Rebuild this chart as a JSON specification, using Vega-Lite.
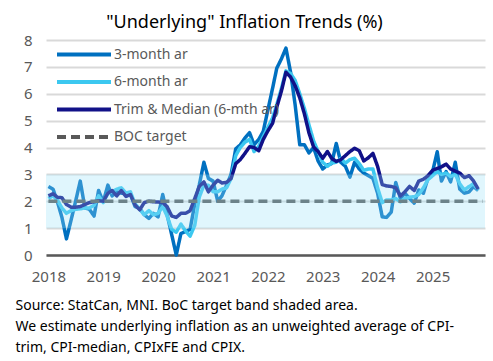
{
  "$schema": "https://vega.github.io/schema/vega-lite/v6.json",
  "width": 439,
  "height": 215,
  "autosize": {"type": "none"},
  "padding": {"left": 46, "top": 40, "right": 8, "bottom": 106},
  "background": "white",
  "title": {"text": "\"Underlying\" Inflation Trends (%)", "fontSize": 18, "fontWeight": "normal", "color": "#000000", "anchor": "middle", "dx": -21, "offset": 1, "font": "Noto Sans"},
  "config": {
    "font": "Noto Sans",
    "view": {"stroke": null},
    "legend": {
      "orient": "none", "legendX": 9, "legendY": 6.5, "title": null, "padding": 0,
      "symbolType": "stroke", "symbolSize": 2916, "symbolStrokeWidth": 4,
      "clipHeight": 16, "rowPadding": 11.5, "labelFontSize": 14, "labelColor": "#595959",
      "labelOffset": 1, "labelLimit": 300, "labelFont": "Noto Sans"
    }
  },
  "data": {"values": [
    {"d":"2018-01","m3":2.55,"m6":2.1,"tm":2.2,"boc":2},
    {"d":"2018-02","m3":2.45,"m6":2.2,"tm":2.28,"boc":2},
    {"d":"2018-03","m3":2.0,"m6":2.05,"tm":2.15,"boc":2},
    {"d":"2018-04","m3":1.4,"m6":1.75,"tm":2.13,"boc":2},
    {"d":"2018-05","m3":0.6,"m6":1.55,"tm":1.88,"boc":2},
    {"d":"2018-06","m3":1.3,"m6":1.65,"tm":1.78,"boc":2},
    {"d":"2018-07","m3":2.0,"m6":1.7,"tm":1.78,"boc":2},
    {"d":"2018-08","m3":2.75,"m6":1.72,"tm":1.8,"boc":2},
    {"d":"2018-09","m3":1.75,"m6":1.75,"tm":1.88,"boc":2},
    {"d":"2018-10","m3":1.7,"m6":1.75,"tm":1.95,"boc":2},
    {"d":"2018-11","m3":1.45,"m6":1.85,"tm":1.98,"boc":2},
    {"d":"2018-12","m3":2.4,"m6":2.2,"tm":2.02,"boc":2},
    {"d":"2019-01","m3":1.98,"m6":1.95,"tm":2.0,"boc":2},
    {"d":"2019-02","m3":2.6,"m6":2.3,"tm":2.3,"boc":2},
    {"d":"2019-03","m3":2.2,"m6":2.35,"tm":2.4,"boc":2},
    {"d":"2019-04","m3":2.35,"m6":2.45,"tm":2.2,"boc":2},
    {"d":"2019-05","m3":2.3,"m6":2.5,"tm":2.4,"boc":2},
    {"d":"2019-06","m3":2.3,"m6":2.3,"tm":2.18,"boc":2},
    {"d":"2019-07","m3":2.25,"m6":2.35,"tm":2.25,"boc":2},
    {"d":"2019-08","m3":1.8,"m6":1.9,"tm":1.86,"boc":2},
    {"d":"2019-09","m3":1.73,"m6":1.7,"tm":1.68,"boc":2},
    {"d":"2019-10","m3":1.5,"m6":1.5,"tm":1.95,"boc":2},
    {"d":"2019-11","m3":1.36,"m6":1.65,"tm":2.0,"boc":2},
    {"d":"2019-12","m3":1.55,"m6":1.5,"tm":1.98,"boc":2},
    {"d":"2020-01","m3":1.42,"m6":1.55,"tm":1.97,"boc":2},
    {"d":"2020-02","m3":2.25,"m6":1.8,"tm":1.95,"boc":2},
    {"d":"2020-03","m3":1.5,"m6":1.45,"tm":1.8,"boc":2},
    {"d":"2020-04","m3":0.75,"m6":0.95,"tm":1.45,"boc":2},
    {"d":"2020-05","m3":0.0,"m6":0.85,"tm":1.4,"boc":2},
    {"d":"2020-06","m3":0.8,"m6":1.15,"tm":1.55,"boc":2},
    {"d":"2020-07","m3":0.87,"m6":0.9,"tm":1.55,"boc":2},
    {"d":"2020-08","m3":0.95,"m6":0.7,"tm":1.65,"boc":2},
    {"d":"2020-09","m3":1.9,"m6":1.1,"tm":2.1,"boc":2},
    {"d":"2020-10","m3":2.6,"m6":2.15,"tm":2.55,"boc":2},
    {"d":"2020-11","m3":3.45,"m6":2.6,"tm":2.72,"boc":2},
    {"d":"2020-12","m3":2.85,"m6":2.6,"tm":2.35,"boc":2},
    {"d":"2021-01","m3":2.75,"m6":2.35,"tm":2.6,"boc":2},
    {"d":"2021-02","m3":2.0,"m6":2.35,"tm":2.78,"boc":2},
    {"d":"2021-03","m3":2.2,"m6":2.45,"tm":2.68,"boc":2},
    {"d":"2021-04","m3":2.6,"m6":2.5,"tm":2.7,"boc":2},
    {"d":"2021-05","m3":3.0,"m6":2.85,"tm":2.85,"boc":2},
    {"d":"2021-06","m3":3.95,"m6":3.7,"tm":3.4,"boc":2},
    {"d":"2021-07","m3":4.1,"m6":4.0,"tm":3.55,"boc":2},
    {"d":"2021-08","m3":4.35,"m6":4.2,"tm":3.78,"boc":2},
    {"d":"2021-09","m3":4.55,"m6":4.3,"tm":4.03,"boc":2},
    {"d":"2021-10","m3":4.1,"m6":3.85,"tm":4.0,"boc":2},
    {"d":"2021-11","m3":4.3,"m6":4.05,"tm":3.88,"boc":2},
    {"d":"2021-12","m3":4.6,"m6":4.4,"tm":4.3,"boc":2},
    {"d":"2022-01","m3":5.4,"m6":4.75,"tm":4.62,"boc":2},
    {"d":"2022-02","m3":6.2,"m6":5.1,"tm":4.9,"boc":2},
    {"d":"2022-03","m3":6.95,"m6":5.6,"tm":5.5,"boc":2},
    {"d":"2022-04","m3":7.3,"m6":6.2,"tm":6.1,"boc":2},
    {"d":"2022-05","m3":7.7,"m6":6.85,"tm":6.8,"boc":2},
    {"d":"2022-06","m3":6.8,"m6":6.75,"tm":6.62,"boc":2},
    {"d":"2022-07","m3":5.6,"m6":6.5,"tm":6.3,"boc":2},
    {"d":"2022-08","m3":4.1,"m6":6.0,"tm":5.85,"boc":2},
    {"d":"2022-09","m3":4.1,"m6":5.45,"tm":5.25,"boc":2},
    {"d":"2022-10","m3":3.8,"m6":4.85,"tm":4.55,"boc":2},
    {"d":"2022-11","m3":4.0,"m6":4.25,"tm":4.02,"boc":2},
    {"d":"2022-12","m3":3.5,"m6":3.85,"tm":3.85,"boc":2},
    {"d":"2023-01","m3":3.2,"m6":3.45,"tm":3.6,"boc":2},
    {"d":"2023-02","m3":3.35,"m6":3.3,"tm":3.85,"boc":2},
    {"d":"2023-03","m3":3.4,"m6":3.42,"tm":3.6,"boc":2},
    {"d":"2023-04","m3":4.15,"m6":3.45,"tm":3.48,"boc":2},
    {"d":"2023-05","m3":3.45,"m6":3.6,"tm":3.55,"boc":2},
    {"d":"2023-06","m3":3.3,"m6":3.42,"tm":3.7,"boc":2},
    {"d":"2023-07","m3":2.9,"m6":3.55,"tm":3.85,"boc":2},
    {"d":"2023-08","m3":3.45,"m6":3.6,"tm":3.97,"boc":2},
    {"d":"2023-09","m3":3.2,"m6":3.4,"tm":3.88,"boc":2},
    {"d":"2023-10","m3":3.05,"m6":3.15,"tm":3.5,"boc":2},
    {"d":"2023-11","m3":2.95,"m6":3.2,"tm":3.62,"boc":2},
    {"d":"2023-12","m3":2.85,"m6":3.2,"tm":3.78,"boc":2},
    {"d":"2024-01","m3":2.3,"m6":2.5,"tm":3.3,"boc":2},
    {"d":"2024-02","m3":1.42,"m6":1.95,"tm":2.62,"boc":2},
    {"d":"2024-03","m3":1.4,"m6":2.05,"tm":2.57,"boc":2},
    {"d":"2024-04","m3":1.6,"m6":2.05,"tm":2.55,"boc":2},
    {"d":"2024-05","m3":2.7,"m6":2.1,"tm":2.5,"boc":2},
    {"d":"2024-06","m3":2.1,"m6":1.98,"tm":2.2,"boc":2},
    {"d":"2024-07","m3":2.3,"m6":2.1,"tm":2.35,"boc":2},
    {"d":"2024-08","m3":2.1,"m6":2.15,"tm":2.55,"boc":2},
    {"d":"2024-09","m3":1.93,"m6":2.17,"tm":2.4,"boc":2},
    {"d":"2024-10","m3":2.42,"m6":2.25,"tm":2.75,"boc":2},
    {"d":"2024-11","m3":2.3,"m6":2.5,"tm":2.82,"boc":2},
    {"d":"2024-12","m3":2.85,"m6":2.8,"tm":2.95,"boc":2},
    {"d":"2025-01","m3":3.1,"m6":2.95,"tm":3.15,"boc":2},
    {"d":"2025-02","m3":3.84,"m6":3.1,"tm":3.22,"boc":2},
    {"d":"2025-03","m3":2.75,"m6":3.0,"tm":3.28,"boc":2},
    {"d":"2025-04","m3":3.1,"m6":3.05,"tm":3.38,"boc":2},
    {"d":"2025-05","m3":2.72,"m6":2.92,"tm":3.2,"boc":2},
    {"d":"2025-06","m3":3.45,"m6":3.0,"tm":3.12,"boc":2},
    {"d":"2025-07","m3":2.45,"m6":2.65,"tm":3.05,"boc":2},
    {"d":"2025-08","m3":2.3,"m6":2.42,"tm":2.88,"boc":2},
    {"d":"2025-09","m3":2.35,"m6":2.55,"tm":2.95,"boc":2},
    {"d":"2025-10","m3":2.55,"m6":2.65,"tm":2.75,"boc":2},
    {"d":"2025-11","m3":2.4,"m6":2.42,"tm":2.45,"boc":2},
    {"d":"2025-12","m3":null,"m6":null,"tm":null,"boc":2}
  ]},
  "layer": [
    {
      "transform": [{"fold": ["m3", "m6", "tm", "boc"], "as": ["key", "value"]}],
      "mark": {"type": "line", "strokeWidth": 3.5, "strokeCap": "butt", "strokeJoin": "round"},
      "encoding": {
        "x": {
          "field": "d", "type": "temporal",
          "scale": {"type": "utc", "domain": [{"year": 2017, "month": 12, "date": 16, "utc": true}, {"year": 2025, "month": 12, "date": 16, "utc": true}]},
          "axis": {
            "title": ["Source:  StatCan, MNI. BoC target band shaded area.", "We estimate underlying inflation as an unweighted average of CPI-", "trim, CPI-median, CPIxFE and CPIX."],
            "titleFontSize": 14, "titleFontWeight": "normal", "titleColor": "#000000", "titleFont": "Noto Sans",
            "titleAnchor": "start", "titleAlign": "left", "titleBaseline": "top", "titleX": -31, "titleY": 43, "titleLineHeight": 21,
            "tickCount": {"interval": "year", "step": 1}, "format": "%Y",
            "labelFontSize": 15, "labelColor": "#595959", "labelPadding": 14, "labelFlush": false, "labelOverlap": false,
            "ticks": false, "grid": false, "domainColor": "#595959", "domainWidth": 2.5
          }
        },
        "y": {
          "field": "value", "type": "quantitative",
          "scale": {"domain": [0, 8], "nice": false, "zero": true},
          "axis": {
            "title": null, "values": [0, 1, 2, 3, 4, 5, 6, 7, 8], "grid": true, "gridColor": "#D9D9D9", "gridWidth": 2,
            "ticks": false, "domain": false, "labelFontSize": 15, "labelColor": "#595959", "labelPadding": 14, "labelOverlap": false
          }
        },
        "color": {
          "field": "key", "type": "nominal",
          "scale": {"domain": ["m3", "m6", "tm", "boc"], "range": ["#0070C0", "#3CC8F0", "#111188", "#595959"]},
          "legend": {"labelExpr": "datum.value == 'm3' ? '3-month ar' : datum.value == 'm6' ? '6-month ar' : datum.value == 'tm' ? 'Trim & Median (6-mth ar)' : 'BOC target'"}
        },
        "strokeDash": {
          "field": "key", "type": "nominal",
          "scale": {"domain": ["m3", "m6", "tm", "boc"], "range": [[1, 0], [1, 0], [1, 0], [9, 5]]},
          "legend": {"labelExpr": "datum.value == 'm3' ? '3-month ar' : datum.value == 'm6' ? '6-month ar' : datum.value == 'tm' ? 'Trim & Median (6-mth ar)' : 'BOC target'"}
        }
      }
    },
    {
      "data": {"values": [{"value": 1, "hi": 3}]},
      "mark": {"type": "rect", "color": "#99E0F8", "opacity": 0.3},
      "encoding": {
        "y": {
          "field": "value", "type": "quantitative",
          "axis": {
            "title": null, "values": [0, 1, 2, 3, 4, 5, 6, 7, 8], "grid": true, "gridColor": "#D9D9D9", "gridWidth": 2,
            "ticks": false, "domain": false, "labelFontSize": 15, "labelColor": "#595959", "labelPadding": 14, "labelOverlap": false
          }
        },
        "y2": {"field": "hi"}
      }
    }
  ]
}
